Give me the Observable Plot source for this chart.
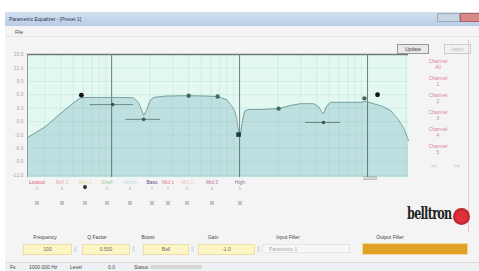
<!DOCTYPE html>
<html><head><meta charset="utf-8">
<script src="https://cdn.jsdelivr.net/npm/d3@7"></script>
<script src="https://cdn.jsdelivr.net/npm/@observablehq/plot@0.6"></script>
<style>
body{margin:0;width:479px;height:271px;overflow:hidden;background:#fff;font-family:"Liberation Sans",Arial,sans-serif;position:relative;}
.abs{position:absolute;}
#win{left:5px;top:12px;width:474px;height:259px;background:#f4f4f4;}
#title{left:5px;top:12px;width:474px;height:14px;background:linear-gradient(#d3e1f1,#b8cde6);}
.t{font-size:5px;color:#444;white-space:nowrap;}
.c{transform:translateX(-50%);text-align:center;}
.yel{background:#fdf6c4;border:1px solid #e8e0a8;height:9px;font-size:5px;color:#666;text-align:center;line-height:9px;}
.sq{width:4px;height:4px;background:#c4c4c4;}
#chart{left:0;top:40px;}
</style></head>
<body>
<div id="win" class="abs"></div>
<div id="title" class="abs"></div>
<div class="abs t" style="left:9px;top:16px;color:#334">Parametric Equalizer - [Preset 1]</div>
<div class="abs" style="left:437px;top:13px;width:21px;height:7px;background:#c8d4e2;border:1px solid #9aa9bb"></div>
<div class="abs" style="left:460px;top:13px;width:19px;height:7px;background:#d88a8a;border:1px solid #b06060"></div>
<div class="abs t" style="left:15px;top:29px">File</div>
<div class="abs" style="left:5px;top:36px;width:474px;height:1px;background:#e6e6e6"></div>
<div id="chart" class="abs"></div>
<div class="abs t" style="left:397px;top:44px;width:30px;height:8px;border:1px solid #999;background:#e9e9e9;line-height:8px;text-align:center">Update</div>
<div class="abs t" style="left:444px;top:44px;width:25px;height:8px;border:1px solid #ccc;background:#f2f2f2;line-height:8px;color:#bbb;text-align:center">Apply</div>
<div class="abs" style="left:468px;top:40px;width:1px;height:192px;background:#f0c4cc"></div>
<div id="chan"></div>
<div class="abs t c" style="left:434px;top:163px;color:#aaa">&lt;&lt;</div>
<div class="abs t c" style="left:457px;top:163px;color:#aaa">&gt;&gt;</div>
<div class="abs t c" style="left:370px;top:175px;color:#888">10000</div>
<div id="types"></div>
<div id="bottom"></div>
<div class="abs" style="left:407px;top:204px;font-family:'DejaVu Serif',serif;font-weight:bold;font-size:16px;color:#222;letter-spacing:-1px;transform:scaleX(0.7);transform-origin:left top">belltron</div>
<div class="abs" style="left:453px;top:208px;width:17px;height:17px;border-radius:50%;background:radial-gradient(#e0303a 40%,#8a1010);"></div>
<div class="abs" style="left:5px;top:262px;width:474px;height:9px;background:#eef0f3;border-top:1px solid #d8dce2"></div>
<div class="abs t" style="left:10px;top:264px">Fs</div>
<div class="abs t" style="left:29px;top:264px">1000.000 Hz</div>
<div class="abs t" style="left:70px;top:264px">Level</div>
<div class="abs t" style="left:108px;top:264px">0.0</div>
<div class="abs t" style="left:134px;top:264px">Status</div>
<div class="abs" style="left:150px;top:265px;width:52px;height:4px;background:#d8d8d8"></div>
<script>
// frequency response curve
const freq = [22,30.5,40,52,57,63,82,118,148,162,172,178,188,198,213,264,400,542,673,792,851,914,948,982,1018,1055,1094,1175,1459,2018,2500,3000,3780,4140,4370,4530,4780,5140,6730,8820,9830,11140,13090,15140,17140,19100,20900];
const gain = [-3.6,-1.1,1.8,4.5,5.3,5.4,5.4,5.4,5.3,4.3,2.5,1.4,2.5,4.5,5.4,5.7,5.8,5.7,5.6,4.9,3.8,2.5,0.7,-2.2,-2.7,0.2,2.3,2.7,2.7,2.9,3.6,4.0,4.0,3.4,2.2,1.8,3.4,4.3,4.3,4.3,4.5,4.0,3.4,2.5,0.7,-1.3,-4.2];
// filter handles
const nodeFreq = [58,102,178,400,673,982,2018,4530,9460,11970];
const nodeGain = [5.9,3.8,0.5,5.8,5.6,-2.9,2.9,-0.2,5.2,6.0];
const nodeKind = ["dot","bar","bar","oval","oval","square","oval","bar","oval","dot"];
const barLo = [null,68,129,null,null,null,null,3270,null,null];
const barHi = [null,148,241,null,null,null,null,6140,null,null];
const yTicks = [15,12,9,6,3,0,-3,-6,-9,-12];
const decades = [100,1000,10000];
const typeLabels = ["Lowcut","Bell 1","Bell 2","Shelf","Notch","Bass","Mid 1","Mid 2","Mid 3","High"];
const typeColors = ["#d85a6a","#e9a8b8","#d8e0a0","#9ccf9a","#b8dbe8","#5a4c88","#e07e9a","#efc0cc","#b47aa8","#8a7aa0"];
const typeX = [37,62,85,107,130,152,168,187,212,240];
const chanLabels = [["Channel","All"],["Channel","1"],["Channel","2"],["Channel","3"],["Channel","4"],["Channel","5"]];
const fieldLabels = ["Frequency","Q Factor","Boost","Gain","Input Filter","Output Filter"];
const fieldValues = ["100","0.500","Bell","-1.0"];

const yMin = -12.5, yMax = 15;
const curve = freq.map((f,i)=>({f, g: gain[i]}));
const nodes = nodeFreq.map((f,i)=>({f, g: nodeGain[i], k: nodeKind[i], lo: barLo[i], hi: barHi[i]}));
const gridF = [];
for (const d of [10,100,1000,10000]) for (let m=1;m<10;m++){const v=d*m; if(v>22&&v<21000&&!decades.includes(v)) gridF.push(v);}

const chart = Plot.plot({
  width: 420, height: 145,
  marginLeft: 27, marginRight: 12, marginTop: 14, marginBottom: 8,
  x: {type: "log", domain: [22, 20900], axis: null},
  y: {domain: [yMin, yMax], ticks: yTicks, tickSize: 0, tickPadding: 4, label: null, tickFormat: d => d.toFixed(1)},
  style: {fontSize: "5px", color: "#a8a8a8", fontFamily: "Liberation Sans, Arial, sans-serif", background: "transparent"},
  marks: [
    Plot.frame({fill: "#e4f8f2", stroke: null}),
    Plot.areaY(curve, {x: "f", y1: () => yMin, y2: "g", fill: "#bfe0e0"}),
    Plot.gridX(gridF, {stroke: "#7cbfae", strokeOpacity: 0.22, strokeWidth: 0.8}),
    Plot.gridY(yTicks, {stroke: "#7cbfae", strokeOpacity: 0.25, strokeWidth: 0.8}),
    Plot.ruleX(decades, {stroke: "#4f5c5c", strokeWidth: 0.8}),
    Plot.ruleX([22], {stroke: "#8a9a9a", strokeWidth: 1}),
    Plot.ruleY([yMax], {stroke: "#6b7a78", strokeWidth: 1.6}),
    Plot.line(curve, {x: "f", y: "g", stroke: "#6e9a96", strokeWidth: 0.9}),
    Plot.ruleY(nodes.filter(d => d.k === "bar"), {y: "g", x1: "lo", x2: "hi", stroke: "#55706c", strokeWidth: 0.8}),
    Plot.dot(nodes.filter(d => d.k === "bar"), {x: "f", y: "g", r: 1.8, fill: "#3b5856"}),
    Plot.dot(nodes.filter(d => d.k === "oval"), {x: "f", y: "g", r: 2.2, fill: "#3f6b5e"}),
    Plot.dot(nodes.filter(d => d.k === "square"), {x: "f", y: "g", r: 2.6, symbol: "square", fill: "#1d3a42"}),
    Plot.dot(nodes.filter(d => d.k === "dot"), {x: "f", y: "g", r: 2.4, fill: "#111"})
  ]
});
document.getElementById("chart").appendChild(chart);

// channel labels
const chan = document.getElementById("chan");
chanLabels.forEach((l,i)=>{
  const d = document.createElement("div");
  d.className = "abs t c";
  d.style.cssText = `left:438px;top:${58+i*17}px;color:#e0809c;line-height:6px`;
  d.innerHTML = l[0] + "<br>" + l[1];
  chan.appendChild(d);
});
// filter types below the plot
const types = document.getElementById("types");
typeLabels.forEach((l,i)=>{
  const a = document.createElement("div");
  a.className = "abs t c"; a.style.cssText = `left:${typeX[i]}px;top:179px;color:${typeColors[i]}`; a.textContent = l;
  types.appendChild(a);
  const b = document.createElement("div");
  b.className = "abs"; b.style.cssText = `left:${typeX[i]-1}px;top:187px;width:2px;height:3px;background:#d6d6d6`;
  types.appendChild(b);
  const s = document.createElement("div");
  s.className = "abs sq"; s.style.left = (typeX[i]-2)+"px"; s.style.top = "201px";
  types.appendChild(s);
});
const mk = document.createElement("div");
mk.className = "abs"; mk.style.cssText = "left:83px;top:185px;width:4px;height:4px;border-radius:50%;background:#333";
types.appendChild(mk);
// bottom fields
const bottom = document.getElementById("bottom");
const labX = [45,97,148,213,288,390];
fieldLabels.forEach((l,i)=>{
  const d = document.createElement("div");
  d.className = "abs t c"; d.style.cssText = `left:${labX[i]}px;top:234px`; d.textContent = l;
  bottom.appendChild(d);
});
const fX = [[23,70],[82,128],[143,187],[198,253]];
fX.forEach((p,i)=>{
  const d = document.createElement("div");
  d.className = "abs yel"; d.style.cssText = `left:${p[0]}px;top:244px;width:${p[1]-p[0]}px`; d.textContent = fieldValues[i];
  bottom.appendChild(d);
  const s = document.createElement("div");
  s.className = "abs"; s.style.cssText = `left:${p[1]+4}px;top:246px;width:3px;height:6px;background:#dde3ea`;
  bottom.appendChild(s);
});
const g = document.createElement("div");
g.className = "abs t"; g.style.cssText = "left:262px;top:244px;width:88px;height:9px;background:#f7f7f7;border:1px solid #e4e4e4;line-height:9px;color:#aaa;padding-left:6px;box-sizing:border-box";
g.textContent = "Parametric 1"; bottom.appendChild(g);
const o = document.createElement("div");
o.className = "abs"; o.style.cssText = "left:362px;top:243px;width:106px;height:12px;background:#e0a127;border:1px solid #f3d9a0;box-sizing:border-box";
bottom.appendChild(o);
</script>
</body></html>
